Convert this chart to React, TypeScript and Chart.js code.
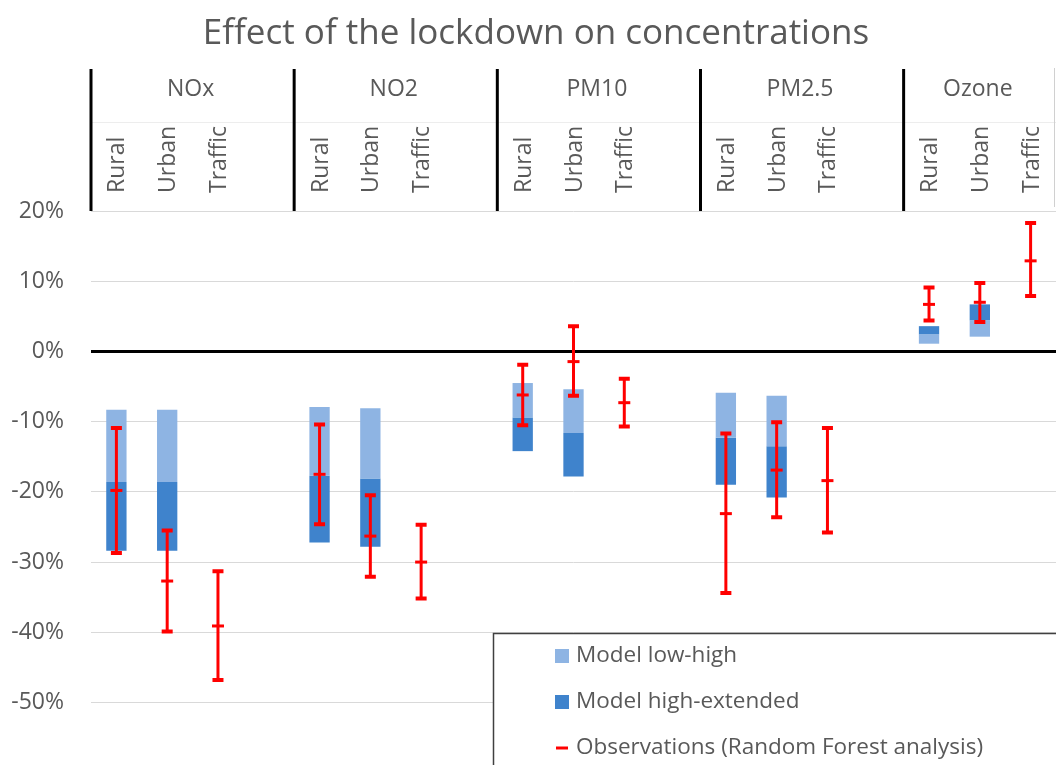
import React, { useEffect, useRef } from 'react';
import { Chart, registerables } from 'chart.js';

Chart.register(...registerables);

const chartTitle = 'Effect of the lockdown on concentrations';
const groups = ['NOx', 'NO2', 'PM10', 'PM2.5', 'Ozone'];
const sites = ['Rural', 'Urban', 'Traffic'];
const yTicks = [20, 10, 0, -10, -20, -30, -40, -50];
const legendLabels = ['Model low-high', 'Model high-extended', 'Observations (Random Forest analysis)'];

// values in %, order: NOx R,U,T | NO2 R,U,T | PM10 R,U,T | PM2.5 R,U,T | Ozone R,U,T
const modelLow = [-8.3, -8.3, null, -7.9, -8.1, null, -4.5, -5.4, null, -5.9, -6.3, null, 1.1, 2.1, null];
const modelHigh = [-18.6, -18.6, null, -17.7, -18.1, null, -9.4, -11.6, null, -12.3, -13.5, null, 2.4, 4.4, null];
const modelExtended = [-28.4, -28.4, null, -27.2, -27.8, null, -14.2, -17.8, null, -19.0, -20.8, null, 3.6, 6.7, null];
const obsUpper = [-10.9, -25.5, -31.3, -10.4, -20.5, -24.7, -1.9, 3.6, -3.9, -11.7, -10.1, -10.9, 9.1, 9.75, 18.3];
const obsCentre = [-19.8, -32.7, -39.1, -17.5, -26.3, -30.0, -6.2, -1.45, -7.3, -23.1, -16.9, -18.4, 6.7, 7.0, 12.9];
const obsLower = [-28.7, -39.9, -46.8, -24.6, -32.1, -35.2, -10.5, -6.3, -10.7, -34.4, -23.6, -25.8, 4.4, 4.2, 7.9];

const LIGHT = '#8EB4E3';
const DARK = '#3F83CC';
const RED = '#FF0000';
const TEXT = '#595959';
const FONT = "'Open Sans', sans-serif";

const slotsPerGroup = sites.length + 1;
const nSlots = groups.length * slotsPerGroup - 1;
const labels: string[] = [];
for (let g = 0; g < groups.length; g++) {
  for (let s = 0; s < slotsPerGroup; s++) {
    if (g * slotsPerGroup + s >= nSlots) break;
    labels.push(s < sites.length ? groups[g] + ' ' + sites[s] : '');
  }
}
const slotOf = (k: number) => Math.floor(k / sites.length) * slotsPerGroup + (k % sites.length);

function floating(a: (number | null)[], b: (number | null)[]) {
  const out: any[] = labels.map(() => null);
  a.forEach((v, k) => {
    const w = b[k];
    if (v !== null && w !== null) out[slotOf(k)] = [v / 100, w / 100];
  });
  return out;
}

const decorPlugin = {
  id: 'decor',
  afterDatasetsDraw(chart: any) {
    const { ctx } = chart;
    const x = chart.scales.x;
    const y = chart.scales.y;
    ctx.save();
    ctx.strokeStyle = RED;
    obsCentre.forEach((c, k) => {
      const px = x.getPixelForValue(slotOf(k));
      const yt = y.getPixelForValue(obsUpper[k] / 100);
      const yb = y.getPixelForValue(obsLower[k] / 100);
      const yc = y.getPixelForValue(c / 100);
      ctx.lineWidth = 3;
      ctx.beginPath();
      ctx.moveTo(px, yt);
      ctx.lineTo(px, yb);
      ctx.stroke();
      ctx.lineWidth = 4;
      ctx.beginPath();
      ctx.moveTo(px - 5.5, yt);
      ctx.lineTo(px + 5.5, yt);
      ctx.moveTo(px - 5.5, yb);
      ctx.lineTo(px + 5.5, yb);
      ctx.stroke();
      ctx.lineWidth = 3;
      ctx.beginPath();
      ctx.moveTo(px - 6, yc);
      ctx.lineTo(px + 6, yc);
      ctx.stroke();
    });
    ctx.restore();
  },
  afterDraw(chart: any) {
    const { ctx, chartArea } = chart;
    const x = chart.scales.x;
    ctx.save();
    // title
    ctx.fillStyle = TEXT;
    ctx.font = `35px ${FONT}`;
    ctx.textAlign = 'center';
    ctx.textBaseline = 'alphabetic';
    ctx.fillText(chartTitle, 536, 44);

    // header
    ctx.strokeStyle = '#EDEDED';
    ctx.lineWidth = 1;
    ctx.beginPath();
    ctx.moveTo(chartArea.left, 122.5);
    ctx.lineTo(chartArea.right, 122.5);
    ctx.stroke();

    ctx.strokeStyle = '#D0D0D0';
    ctx.lineWidth = 1;
    ctx.beginPath();
    ctx.moveTo(chartArea.right - 1.5, 68);
    ctx.lineTo(chartArea.right - 1.5, chartArea.top - 4);
    ctx.stroke();

    ctx.strokeStyle = '#000';
    ctx.lineWidth = 3;
    for (let g = 0; g <= groups.length; g++) {
      const lx = x.getPixelForValue(g * slotsPerGroup - 0.5);
      ctx.beginPath();
      ctx.moveTo(lx, 69);
      ctx.lineTo(lx, chartArea.top);
      ctx.stroke();
    }
    ctx.fillStyle = TEXT;
    groups.forEach((name, g) => {
      const gl = x.getPixelForValue(g * slotsPerGroup - 0.5);
      const gr = Math.min(x.getPixelForValue((g + 1) * slotsPerGroup - 0.5), chartArea.right);
      ctx.font = `23px ${FONT}`;
      ctx.textAlign = 'center';
      ctx.fillText(name, (gl + gr) / 2 - 2, 96);
      sites.forEach((site, s) => {
        const px = x.getPixelForValue(g * slotsPerGroup + s);
        ctx.save();
        ctx.translate(px + 8, 193);
        ctx.rotate(-Math.PI / 2);
        ctx.font = `23px ${FONT}`;
        ctx.textAlign = 'left';
        ctx.fillText(site, 0, 0);
        ctx.restore();
      });
    });

    // legend
    const bx = 493.5, by = 633.5;
    ctx.fillStyle = '#fff';
    ctx.fillRect(bx, by, 700, 200);
    ctx.strokeStyle = '#404040';
    ctx.lineWidth = 1.5;
    ctx.strokeRect(bx, by, 700, 200);
    const rows = [656, 702, 748];
    legendLabels.forEach((lab, i) => {
      const cy = rows[i];
      if (i < 2) {
        ctx.fillStyle = i === 0 ? LIGHT : DARK;
        ctx.fillRect(555, cy - 7, 14, 14);
      } else {
        ctx.strokeStyle = RED;
        ctx.lineWidth = 3;
        ctx.beginPath();
        ctx.moveTo(556, cy);
        ctx.lineTo(568, cy);
        ctx.stroke();
      }
      ctx.fillStyle = TEXT;
      ctx.font = `22.5px ${FONT}`;
      ctx.textAlign = 'left';
      ctx.textBaseline = 'middle';
      ctx.fillText(lab, 576, cy);
    });
    ctx.restore();
  },
};

export default function App() {
  const ref = useRef<HTMLCanvasElement | null>(null);
  useEffect(() => {
    document.body.style.margin = '0';
    const chart = new Chart(ref.current as HTMLCanvasElement, {
      type: 'bar',
      data: {
        labels,
        datasets: [
          {
            label: legendLabels[0],
            data: floating(modelLow, modelHigh),
            backgroundColor: LIGHT,
            grouped: false,
            barPercentage: 0.4,
            categoryPercentage: 1,
          } as any,
          {
            label: legendLabels[1],
            data: floating(modelHigh, modelExtended),
            backgroundColor: DARK,
            grouped: false,
            barPercentage: 0.4,
            categoryPercentage: 1,
          } as any,
        ],
      },
      options: {
        animation: false,
        responsive: false,
        devicePixelRatio: 1,
        layout: { padding: { top: 211, left: 0, right: 0, bottom: 0 } },
        plugins: { legend: { display: false }, title: { display: false }, tooltip: { enabled: false } },
        scales: {
          x: { display: false, offset: true },
          y: {
            min: -0.589,
            max: 0.2,
            border: { display: false },
            grid: {
              drawTicks: false,
              color: (c: any) => (c.tick && c.tick.value === 0 ? '#000' : '#D9D9D9'),
              lineWidth: (c: any) => (c.tick && c.tick.value === 0 ? 3 : 1),
            },
            ticks: {
              padding: 27,
              color: TEXT,
              font: { family: FONT, size: 23 },
              callback: (v: any) => Math.round(v * 100) + '%',
            },
            afterBuildTicks: (s: any) => {
              s.ticks = yTicks.map((v) => ({ value: v / 100 }));
            },
            afterFit: (s: any) => {
              s.width = 91;
              s.paddingTop = 0;
              s.paddingBottom = 0;
            },
          } as any,
        },
      },
      plugins: [decorPlugin],
    });
    return () => chart.destroy();
  }, []);
  return (
    <div style={{ position: 'fixed', left: 0, top: 0, width: 1056, height: 765, background: '#fff' }}>
      <canvas ref={ref} width={1056} height={765} />
    </div>
  );
}
